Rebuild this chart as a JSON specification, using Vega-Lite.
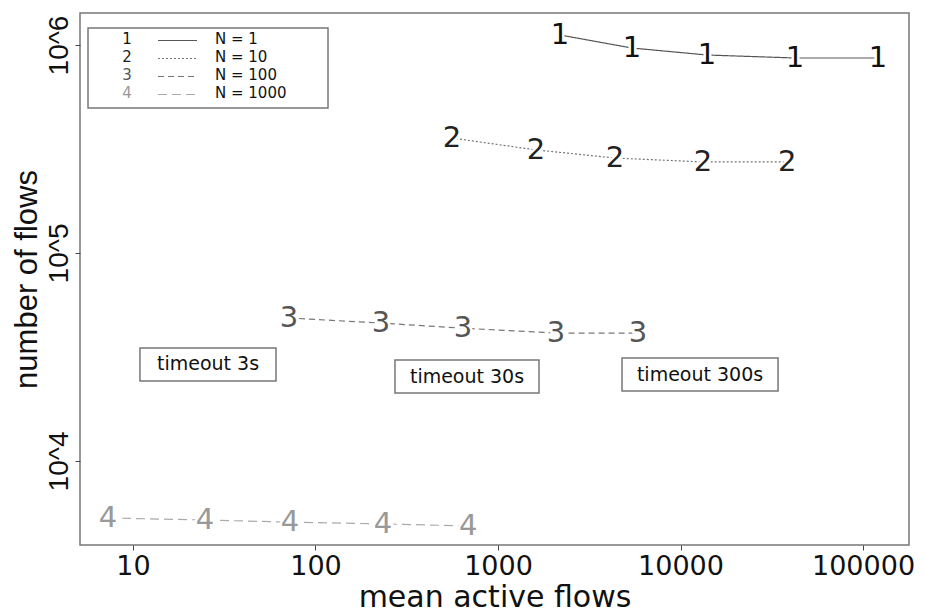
{
  "$schema": "https://vega.github.io/schema/vega-lite/v6.json",
  "width": 829,
  "height": 532,
  "autosize": {"type": "none"},
  "padding": {"left": 80, "top": 13, "right": 17, "bottom": 68},
  "background": "white",
  "config": {
    "font": "DejaVu Sans",
    "view": {"stroke": "#777", "strokeWidth": 1.5}
  },
  "datasets": {
    "flows": [
      {"s": "1", "n": "N = 1", "active": 2188, "flows": 1117000},
      {"s": "1", "n": "N = 1", "active": 5420, "flows": 967000},
      {"s": "1", "n": "N = 1", "active": 13970, "flows": 895000},
      {"s": "1", "n": "N = 1", "active": 42400, "flows": 866000},
      {"s": "1", "n": "N = 1", "active": 120800, "flows": 866000},
      {"s": "2", "n": "N = 10", "active": 560, "flows": 357000},
      {"s": "2", "n": "N = 10", "active": 1614, "flows": 313000},
      {"s": "2", "n": "N = 10", "active": 4375, "flows": 286000},
      {"s": "2", "n": "N = 10", "active": 13280, "flows": 274000},
      {"s": "2", "n": "N = 10", "active": 38370, "flows": 274000},
      {"s": "3", "n": "N = 100", "active": 71.6, "flows": 48700},
      {"s": "3", "n": "N = 100", "active": 228.5, "flows": 46000},
      {"s": "3", "n": "N = 100", "active": 643, "flows": 43500},
      {"s": "3", "n": "N = 100", "active": 2080, "flows": 41200},
      {"s": "3", "n": "N = 100", "active": 5850, "flows": 41200},
      {"s": "4", "n": "N = 1000", "active": 7.3, "flows": 5320},
      {"s": "4", "n": "N = 1000", "active": 24.8, "flows": 5200},
      {"s": "4", "n": "N = 1000", "active": 72.4, "flows": 5080},
      {"s": "4", "n": "N = 1000", "active": 234, "flows": 4980},
      {"s": "4", "n": "N = 1000", "active": 686, "flows": 4870}
    ]
  },
  "data": {"name": "flows"},
  "layer": [
    {
      "data": {"values": [{}]},
      "mark": {"type": "rect", "fill": "white", "stroke": "#777", "strokeWidth": 1.5},
      "encoding": {
        "x": {"datum": 5.67, "type": "quantitative", "scale": {"type": "log"}},
        "x2": {"datum": 117.1},
        "y": {"datum": 1207000, "type": "quantitative", "scale": {"type": "log"}},
        "y2": {"datum": 497700}
      }
    },
    {
      "data": {"values": [{}]},
      "mark": {"type": "rect", "fill": "white", "stroke": "#777", "strokeWidth": 1.5},
      "encoding": {
        "x": {"datum": 10.92, "type": "quantitative", "scale": {"type": "log"}},
        "x2": {"datum": 60.77},
        "y": {"datum": 34930, "type": "quantitative", "scale": {"type": "log"}},
        "y2": {"datum": 24240}
      }
    },
    {
      "data": {"values": [{}]},
      "mark": {"type": "rect", "fill": "white", "stroke": "#777", "strokeWidth": 1.5},
      "encoding": {
        "x": {"datum": 272.6, "type": "quantitative", "scale": {"type": "log"}},
        "x2": {"datum": 1677},
        "y": {"datum": 30580, "type": "quantitative", "scale": {"type": "log"}},
        "y2": {"datum": 21230}
      }
    },
    {
      "data": {"values": [{}]},
      "mark": {"type": "rect", "fill": "white", "stroke": "#777", "strokeWidth": 1.5},
      "encoding": {
        "x": {"datum": 4780, "type": "quantitative", "scale": {"type": "log"}},
        "x2": {"datum": 34230},
        "y": {"datum": 31270, "type": "quantitative", "scale": {"type": "log"}},
        "y2": {"datum": 21700}
      }
    },
    {
      "mark": {"type": "line", "strokeWidth": 1.2},
      "encoding": {
        "x": {
          "field": "active", "type": "quantitative",
          "scale": {"type": "log", "domain": [5.125, 178600], "nice": false, "zero": false},
          "axis": {
            "values": [10, 100, 1000, 10000, 100000],
            "format": "d",
            "title": "mean active flows",
            "grid": false, "domain": false,
            "tickSize": 5, "tickColor": "#444", "tickWidth": 1,
            "labelFontSize": 27, "labelColor": "#111", "labelPadding": 3,
            "titleFontSize": 30, "titleFontWeight": "normal", "titleColor": "#111", "titlePadding": 3
          }
        },
        "y": {
          "field": "flows", "type": "quantitative",
          "scale": {"type": "log", "domain": [3944, 1425000], "nice": false, "zero": false},
          "axis": {
            "values": [10000, 100000, 1000000],
            "labelExpr": "'10^' + round(log(datum.value)/LN10)",
            "labelAngle": 270, "labelAlign": "center", "labelBaseline": "bottom",
            "labelFont": "Liberation Sans", "labelFontSize": 28, "labelColor": "#111", "labelPadding": 2,
            "title": "number of flows",
            "titleFont": "Liberation Sans", "titleFontSize": 31, "titleFontWeight": "normal", "titleColor": "#111", "titlePadding": 2,
            "grid": false, "domain": false,
            "tickSize": 5, "tickColor": "#444", "tickWidth": 1
          }
        },
        "stroke": {
          "field": "n", "type": "nominal",
          "scale": {"domain": ["N = 1", "N = 10", "N = 100", "N = 1000"], "range": ["#555", "#777", "#777", "#aaa"]},
          "legend": null
        },
        "strokeDash": {
          "field": "n", "type": "nominal",
          "scale": {"domain": ["N = 1", "N = 10", "N = 100", "N = 1000"], "range": [[1, 0], [2, 2], [6, 4], [9, 5]]},
          "legend": null
        }
      }
    },
    {
      "mark": {"type": "text", "fontSize": 29, "fill": "white", "stroke": "white", "strokeWidth": 5, "baseline": "middle", "align": "center"},
      "encoding": {
        "x": {"field": "active", "type": "quantitative", "scale": {"type": "log"}},
        "y": {"field": "flows", "type": "quantitative", "scale": {"type": "log"}},
        "text": {"field": "s"}
      }
    },
    {
      "mark": {"type": "text", "fontSize": 29, "baseline": "middle", "align": "center"},
      "encoding": {
        "x": {"field": "active", "type": "quantitative", "scale": {"type": "log"}},
        "y": {"field": "flows", "type": "quantitative", "scale": {"type": "log"}},
        "text": {"field": "s"},
        "color": {
          "field": "s", "type": "nominal",
          "scale": {"domain": ["1", "2", "3", "4"], "range": ["#111", "#222", "#555", "#999"]},
          "legend": null
        }
      }
    },
    {
      "data": {"values": [{}]},
      "mark": {"type": "text", "fontSize": 15, "color": "#111", "baseline": "middle", "align": "center"},
      "encoding": {
        "x": {"datum": 9.27, "type": "quantitative", "scale": {"type": "log"}},
        "y": {"datum": 1062700, "type": "quantitative", "scale": {"type": "log"}},
        "text": {"value": "1"}
      }
    },
    {
      "data": {"values": [{}]},
      "mark": {"type": "text", "fontSize": 15, "color": "#222", "baseline": "middle", "align": "center"},
      "encoding": {
        "x": {"datum": 9.27, "type": "quantitative", "scale": {"type": "log"}},
        "y": {"datum": 870800, "type": "quantitative", "scale": {"type": "log"}},
        "text": {"value": "2"}
      }
    },
    {
      "data": {"values": [{}]},
      "mark": {"type": "text", "fontSize": 15, "color": "#555", "baseline": "middle", "align": "center"},
      "encoding": {
        "x": {"datum": 9.27, "type": "quantitative", "scale": {"type": "log"}},
        "y": {"datum": 713500, "type": "quantitative", "scale": {"type": "log"}},
        "text": {"value": "3"}
      }
    },
    {
      "data": {"values": [{}]},
      "mark": {"type": "text", "fontSize": 15, "color": "#999", "baseline": "middle", "align": "center"},
      "encoding": {
        "x": {"datum": 9.27, "type": "quantitative", "scale": {"type": "log"}},
        "y": {"datum": 584600, "type": "quantitative", "scale": {"type": "log"}},
        "text": {"value": "4"}
      }
    },
    {
      "data": {"values": [{}]},
      "mark": {"type": "rule", "color": "#555", "strokeWidth": 1.2},
      "encoding": {
        "x": {"datum": 13.71, "type": "quantitative", "scale": {"type": "log"}},
        "x2": {"datum": 22.42},
        "y": {"datum": 1051000, "type": "quantitative", "scale": {"type": "log"}}
      }
    },
    {
      "data": {"values": [{}]},
      "mark": {"type": "rule", "color": "#777", "strokeWidth": 1.2, "strokeDash": [2, 2]},
      "encoding": {
        "x": {"datum": 13.71, "type": "quantitative", "scale": {"type": "log"}},
        "x2": {"datum": 22.42},
        "y": {"datum": 861200, "type": "quantitative", "scale": {"type": "log"}}
      }
    },
    {
      "data": {"values": [{}]},
      "mark": {"type": "rule", "color": "#777", "strokeWidth": 1.2, "strokeDash": [6, 4]},
      "encoding": {
        "x": {"datum": 13.71, "type": "quantitative", "scale": {"type": "log"}},
        "x2": {"datum": 22.42},
        "y": {"datum": 705700, "type": "quantitative", "scale": {"type": "log"}}
      }
    },
    {
      "data": {"values": [{}]},
      "mark": {"type": "rule", "color": "#aaa", "strokeWidth": 1.2, "strokeDash": [9, 5]},
      "encoding": {
        "x": {"datum": 13.71, "type": "quantitative", "scale": {"type": "log"}},
        "x2": {"datum": 22.42},
        "y": {"datum": 578200, "type": "quantitative", "scale": {"type": "log"}}
      }
    },
    {
      "data": {"values": [{}]},
      "mark": {"type": "text", "fontSize": 15, "color": "#111", "baseline": "middle", "align": "left"},
      "encoding": {
        "x": {"datum": 28.14, "type": "quantitative", "scale": {"type": "log"}},
        "y": {"datum": 1062700, "type": "quantitative", "scale": {"type": "log"}},
        "text": {"value": "N = 1"}
      }
    },
    {
      "data": {"values": [{}]},
      "mark": {"type": "text", "fontSize": 15, "color": "#111", "baseline": "middle", "align": "left"},
      "encoding": {
        "x": {"datum": 28.14, "type": "quantitative", "scale": {"type": "log"}},
        "y": {"datum": 870800, "type": "quantitative", "scale": {"type": "log"}},
        "text": {"value": "N = 10"}
      }
    },
    {
      "data": {"values": [{}]},
      "mark": {"type": "text", "fontSize": 15, "color": "#111", "baseline": "middle", "align": "left"},
      "encoding": {
        "x": {"datum": 28.14, "type": "quantitative", "scale": {"type": "log"}},
        "y": {"datum": 713500, "type": "quantitative", "scale": {"type": "log"}},
        "text": {"value": "N = 100"}
      }
    },
    {
      "data": {"values": [{}]},
      "mark": {"type": "text", "fontSize": 15, "color": "#111", "baseline": "middle", "align": "left"},
      "encoding": {
        "x": {"datum": 28.14, "type": "quantitative", "scale": {"type": "log"}},
        "y": {"datum": 584600, "type": "quantitative", "scale": {"type": "log"}},
        "text": {"value": "N = 1000"}
      }
    },
    {
      "data": {"values": [{}]},
      "mark": {"type": "text", "fontSize": 19, "color": "#111", "baseline": "middle", "align": "center"},
      "encoding": {
        "x": {"datum": 25.76, "type": "quantitative", "scale": {"type": "log"}},
        "y": {"datum": 29260, "type": "quantitative", "scale": {"type": "log"}},
        "text": {"value": "timeout 3s"}
      }
    },
    {
      "data": {"values": [{}]},
      "mark": {"type": "text", "fontSize": 19, "color": "#111", "baseline": "middle", "align": "center"},
      "encoding": {
        "x": {"datum": 676.3, "type": "quantitative", "scale": {"type": "log"}},
        "y": {"datum": 25340, "type": "quantitative", "scale": {"type": "log"}},
        "text": {"value": "timeout 30s"}
      }
    },
    {
      "data": {"values": [{}]},
      "mark": {"type": "text", "fontSize": 19, "color": "#111", "baseline": "middle", "align": "center"},
      "encoding": {
        "x": {"datum": 12790, "type": "quantitative", "scale": {"type": "log"}},
        "y": {"datum": 25910, "type": "quantitative", "scale": {"type": "log"}},
        "text": {"value": "timeout 300s"}
      }
    }
  ]
}
